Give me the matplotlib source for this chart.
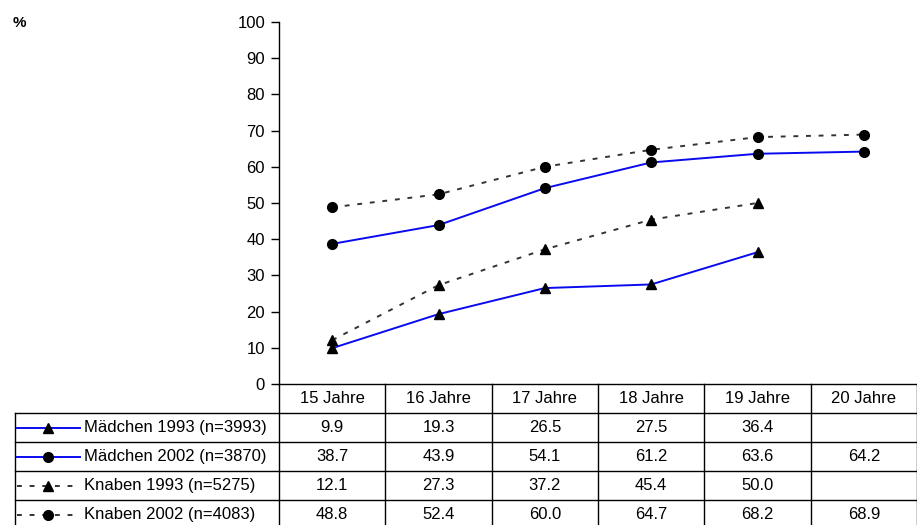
import numpy as np
import matplotlib.pyplot as plt

plt.rcParams['font.family'] = ['Liberation Sans', 'DejaVu Sans']

# Daten
jahre = ['15 Jahre', '16 Jahre', '17 Jahre', '18 Jahre', '19 Jahre', '20 Jahre']
maedchen_1993 = [9.9, 19.3, 26.5, 27.5, 36.4, None]
maedchen_2002 = [38.7, 43.9, 54.1, 61.2, 63.6, 64.2]
knaben_1993 = [12.1, 27.3, 37.2, 45.4, 50.0, None]
knaben_2002 = [48.8, 52.4, 60.0, 64.7, 68.2, 68.9]
namen = ['Mädchen 1993 (n=3993)', 'Mädchen 2002 (n=3870)',
         'Knaben 1993 (n=5275)', 'Knaben 2002 (n=4083)']

W, H = 917, 525
fig = plt.figure(figsize=(W / 100, H / 100), dpi=100)
x0, x1, y0, y1 = 279, 917, 384, 22
ax = fig.add_axes([x0 / W, 1 - y0 / H, (x1 - x0) / W, (y0 - y1) / H])
ax.set_xlim(0, 6)
ax.set_ylim(0, 100)

xs = np.arange(len(jahre)) + 0.5
reihen = [maedchen_1993, maedchen_2002, knaben_1993, knaben_2002]
stile = [
    dict(color='#0a0af0', ls='-', marker='^'),
    dict(color='#0a0af0', ls='-', marker='o'),
    dict(color='#333333', ls=(0, (2.5, 4)), marker='^'),
    dict(color='#333333', ls=(0, (2.5, 4)), marker='o'),
]

def werte(r):
    return np.array([np.nan if v is None else v for v in r], dtype=float)

for r, st in zip(reihen, stile):
    ax.plot(xs, werte(r), color=st['color'], ls=st['ls'], lw=1.4,
            marker=st['marker'], ms=7, mfc='black', mec='black', zorder=3)

# Achsen
for s in ['top', 'right']:
    ax.spines[s].set_visible(False)
ax.spines['left'].set_linewidth(1)
ax.spines['bottom'].set_linewidth(1)
ax.set_yticks(range(0, 101, 10))
ax.tick_params(axis='y', labelsize=12, length=6, width=1, pad=4)
ax.set_xticks([])
fig.text(13 / W, 1 - 23 / H, '%', fontsize=11, fontweight='bold',
         va='center', ha='left')

# Tabelle (in Datenkoordinaten, ausserhalb der Achse)
px_x = 6 / (x1 - x0)          # Dateneinheit je Pixel (x)
px_y = 100 / (y0 - y1)        # Dateneinheit je Pixel (y)
zeile = 29 * px_y
links = -(x0 - 15) * px_x
rows_y = [-zeile * i for i in range(6)]
kw = dict(color='black', lw=1, clip_on=False)

# Kopfzeile
for i in range(7):
    ax.plot([i, i], [0, rows_y[5]], **kw)
for j in range(1, 5):
    ax.plot([links, 6], [rows_y[j], rows_y[j]], **kw)
ax.plot([links, links], [rows_y[1], rows_y[5]], **kw)

for i, j in enumerate(jahre):
    ax.text(xs[i], -zeile / 2, j, ha='center', va='center', fontsize=12,
            clip_on=False)

for k, (r, st, name) in enumerate(zip(reihen, stile, namen)):
    ym = rows_y[k + 1] - zeile / 2
    ax.plot([links + 2 * px_x, links + 65 * px_x], [ym, ym], color=st['color'],
            ls=st['ls'], lw=1.4, clip_on=False)
    ax.plot([links + 33 * px_x], [ym], marker=st['marker'], ms=7,
            color='black', clip_on=False)
    ax.text(links + 69 * px_x, ym, name, ha='left', va='center', fontsize=12,
            clip_on=False)
    for i, v in enumerate(r):
        if v is not None:
            ax.text(xs[i], ym, f'{v:.1f}', ha='center', va='center',
                    fontsize=12, clip_on=False)

fig.savefig('out.png', dpi=100)
